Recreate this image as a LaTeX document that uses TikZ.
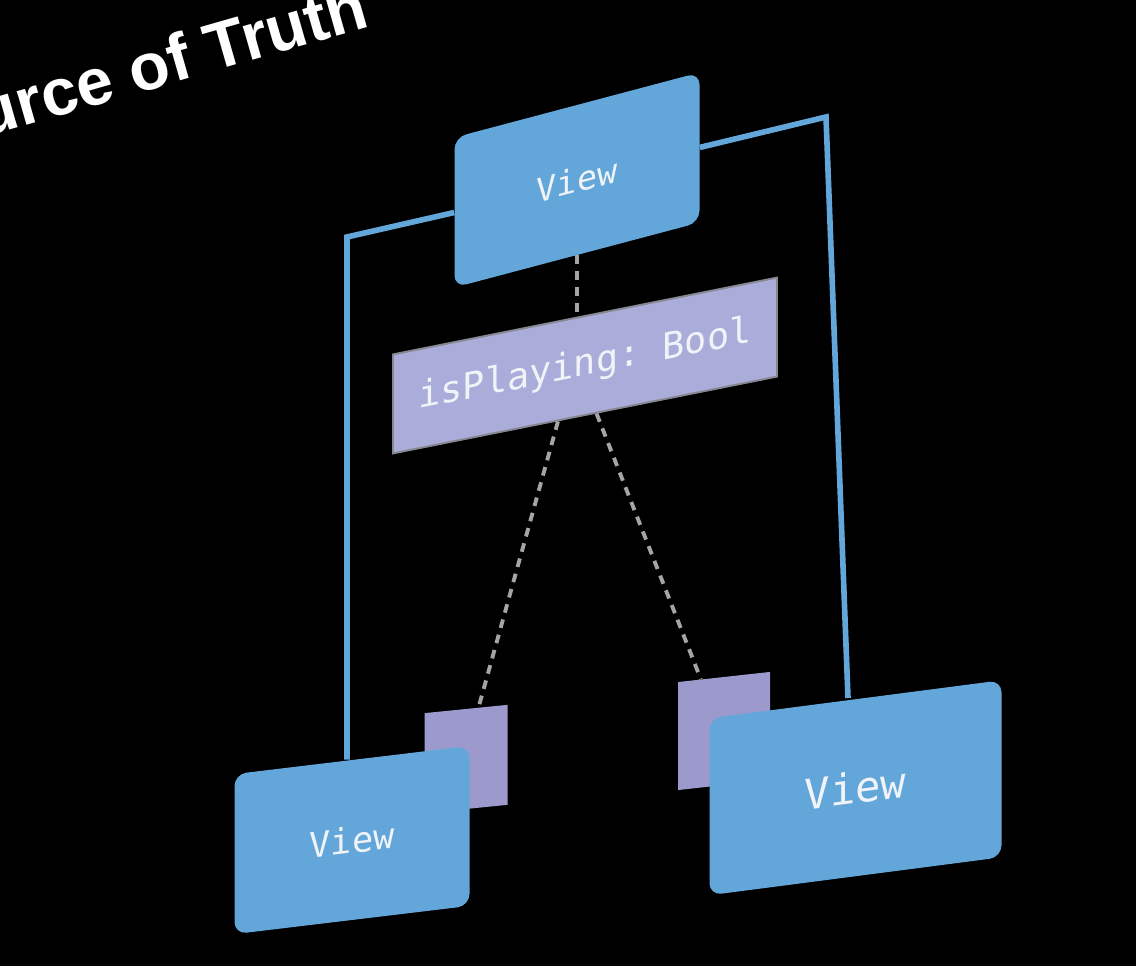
\documentclass[tikz,border=0pt]{standalone}
\usepackage{fontspec}
\setmainfont{Liberation Sans}
\setmonofont{DejaVu Sans Mono}
\usepackage{xcolor}
\usepackage{tikz}
\usetikzlibrary{calc}
\definecolor{viewblue}{RGB}{99,166,218}
\definecolor{statelilac}{RGB}{170,172,218}
\definecolor{slotlilac}{RGB}{156,154,204}
\definecolor{dashgrey}{RGB}{165,165,165}
\definecolor{boxtext}{RGB}{240,243,248}

\begin{document}
\begin{tikzpicture}[x=1cm,y=1cm,
  viewbox/.style={fill=viewblue,rounded corners=0.24cm,text=boxtext,inner sep=0pt},
  statebox/.style={fill=statelilac,draw={rgb,255:red,135;green,135;blue,145},line width=1.1pt,text=boxtext,inner sep=0pt},
  slotbox/.style={fill=slotlilac,inner sep=0pt},
  bindline/.style={draw=viewblue,line width=3.2pt},
  wireline/.style={draw=dashgrey,line width=2.2pt,dash pattern=on 5pt off 4pt}]
  \useasboundingbox (0,0) rectangle (22.72,19.32);
  \clip (0,0) rectangle (22.72,19.32);
  \fill[black] (0,0) rectangle (22.72,19.32);
  % titre
  \node[font=\bfseries\fontsize{37.6}{40}\selectfont,text=white,rotate=16,anchor=base west,inner sep=0pt] (title) at (-1.96,16.10) {Source of Truth};
  % petits carres
  \node[slotbox,minimum width=1.66cm,minimum height=2cm,cm={1,.1,0,1,(9.32,4.14)}] (lsq) {};
  \node[slotbox,minimum width=1.84cm,minimum height=2.16cm,cm={1,.11,0,1,(14.48,4.7)}] (rsq) {};
  % etat
  \node[statebox,minimum width=7.68cm,minimum height=1.98cm,font=\ttfamily\fontsize{21}{24}\selectfont,cm={1,.2,0,1,(11.7,12.01)}] (state) {isPlaying: Bool};
  % vues
  \node[viewbox,minimum width=4.9cm,minimum height=3cm,font=\ttfamily\fontsize{19}{22}\selectfont,cm={1,.265,0,1,(11.54,15.72)}] (topview) {View};
  \node[viewbox,minimum width=4.7cm,minimum height=3.2cm,font=\ttfamily\fontsize{20}{23}\selectfont,cm={1,.12,0,1,(7.04,2.52)}] (blview) {View};
  \node[viewbox,minimum width=5.84cm,minimum height=3.54cm,font=\ttfamily\fontsize{24}{27}\selectfont,cm={1,.13,0,1,(17.11,3.565)}] (brview) {View};
  % liens
  \coordinate (lbend) at (6.94,14.58);
  \coordinate (rbend) at (16.52,16.98);
  \coordinate (rfoot) at (16.96,5.36);
  \draw[bindline] (topview.west) -- (lbend) -- (lbend |- blview.north);
  \draw[bindline] (topview.east) -- (rbend) -- (rfoot);
  \draw[wireline] (topview.south) -- (topview.south |- state.north);
  \draw[wireline] ($(state.south west)!.43!(state.south east)$) -- ($(lsq.north west)!.65!(lsq.north east)$);
  \draw[wireline] ($(state.south west)!.53!(state.south east)$) -- ($(rsq.north west)!.25!(rsq.north east)$);
\end{tikzpicture}
\end{document}
